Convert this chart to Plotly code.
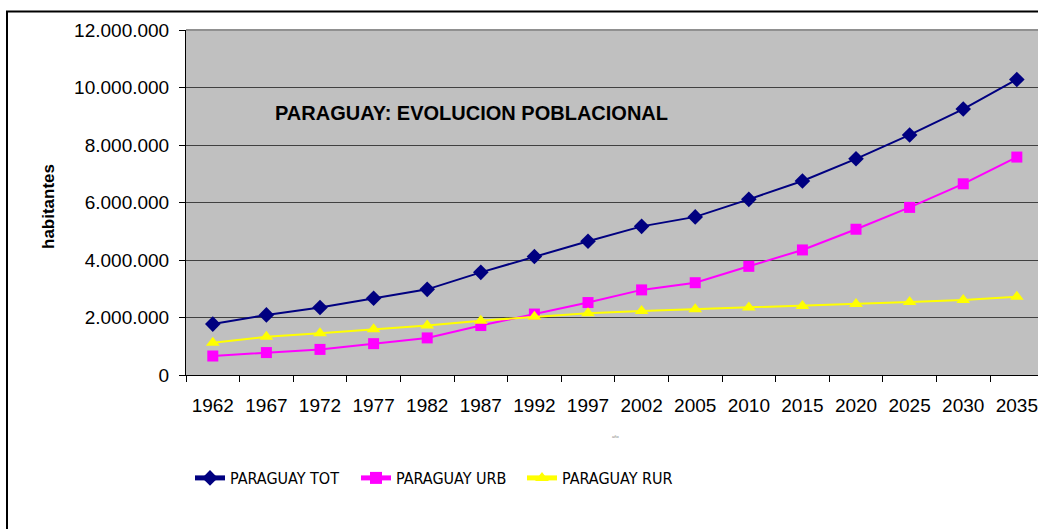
import plotly.graph_objects as go

years = ["1962", "1967", "1972", "1977", "1982", "1987", "1992", "1997",
         "2002", "2005", "2010", "2015", "2020", "2025", "2030", "2035"]
tot = [1770000, 2090000, 2350000, 2670000, 2980000, 3570000, 4120000, 4650000,
       5170000, 5500000, 6110000, 6750000, 7520000, 8350000, 9250000, 10280000]
urb = [660000, 780000, 890000, 1090000, 1290000, 1720000, 2120000, 2520000,
       2960000, 3210000, 3780000, 4350000, 5070000, 5830000, 6650000, 7580000]
rur = [1120000, 1330000, 1450000, 1590000, 1720000, 1890000, 2030000, 2150000,
       2230000, 2290000, 2350000, 2400000, 2470000, 2540000, 2610000, 2720000]
names = ["PARAGUAY TOT", "PARAGUAY URB", "PARAGUAY RUR"]
colors = ["#000080", "#FF00FF", "#FFFF00"]
symbols = ["diamond", "square", "triangle-up"]
sizes = [12, 11, 12]

W, H = 1038, 529
L, T = 186, 30
AXIS_Y = 375
B = H - AXIS_Y
PW = W - L
PH = AXIS_Y - T

fig = go.Figure()
for vals, nm, c, s, sz in zip([tot, urb, rur], names, colors, symbols, sizes):
    fig.add_trace(go.Scatter(
        x=years, y=vals, name=nm, mode="lines+markers",
        line=dict(color=c, width=2),
        marker=dict(symbol=s, size=sz, color=c, line=dict(width=0)),
    ))

def px_x(px):
    return (px - L) / PW

def px_y(py):
    return (AXIS_Y - py) / PH

fig.update_layout(
    width=W, height=H,
    margin=dict(l=L, r=0, t=T, b=B, pad=0),
    paper_bgcolor="white",
    plot_bgcolor="#C0C0C0",
    separators=",.",
    font=dict(family="Liberation Sans, Arial, sans-serif", size=17, color="black"),
    xaxis=dict(
        type="category", range=[-0.5, 15.395], tickson="boundaries",
        ticks="outside", ticklen=6, tickcolor="black", tickwidth=1,
        showline=True, linecolor="black", linewidth=1, showgrid=False,
        tickfont=dict(size=19), ticklabelstandoff=13, fixedrange=True,
    ),
    yaxis=dict(
        range=[0, 12000000], dtick=2000000, tickformat=",d",
        ticks="outside", ticklen=6, tickcolor="black", tickwidth=1,
        showline=True, linecolor="black", linewidth=1,
        showgrid=True, gridcolor="#404040", gridwidth=1,
        zeroline=False, tickfont=dict(size=19), ticklabelstandoff=6,
    ),
    showlegend=True,
    legend=dict(
        orientation="h", x=px_x(190), xanchor="left", y=px_y(478), yanchor="middle",
        font=dict(family="Liberation Sans Narrow, Arial Narrow, DejaVu Sans Condensed, sans-serif", size=16),
        entrywidth=121, entrywidthmode="pixels", bgcolor="rgba(0,0,0,0)",
        itemsizing="constant",
    ),
    annotations=[
        dict(text="PARAGUAY: EVOLUCION POBLACIONAL", xref="paper", yref="paper",
             x=px_x(273), y=px_y(113), xanchor="left", yanchor="middle", showarrow=False,
             font=dict(size=20, family="Liberation Sans, Arial, sans-serif", weight="bold")),
        dict(text="año", xref="paper", yref="paper", x=px_x(615), y=px_y(436),
             xanchor="center", yanchor="middle", showarrow=False,
             font=dict(size=4, color="#808080")),
        dict(text="habitantes", xref="paper", yref="paper", x=px_x(49), y=px_y(207),
             xanchor="center", yanchor="middle", showarrow=False, textangle=-90,
             font=dict(size=17, family="Liberation Sans, Arial, sans-serif", weight="bold")),
    ],
    shapes=[
        dict(type="rect", xref="paper", yref="paper", x0=px_x(7), x1=px_x(1060),
             y0=px_y(560), y1=px_y(11.5), line=dict(color="black", width=2),
             fillcolor="rgba(0,0,0,0)", layer="below"),
        dict(type="line", xref="paper", yref="paper", x0=0, x1=1, y0=1, y1=1,
             line=dict(color="#909090", width=2)),
    ],
)
fig.write_html(
    "out.html",
    config={"displayModeBar": False},
    post_script="document.body.style.margin='0';document.body.style.overflow='hidden';",
)
